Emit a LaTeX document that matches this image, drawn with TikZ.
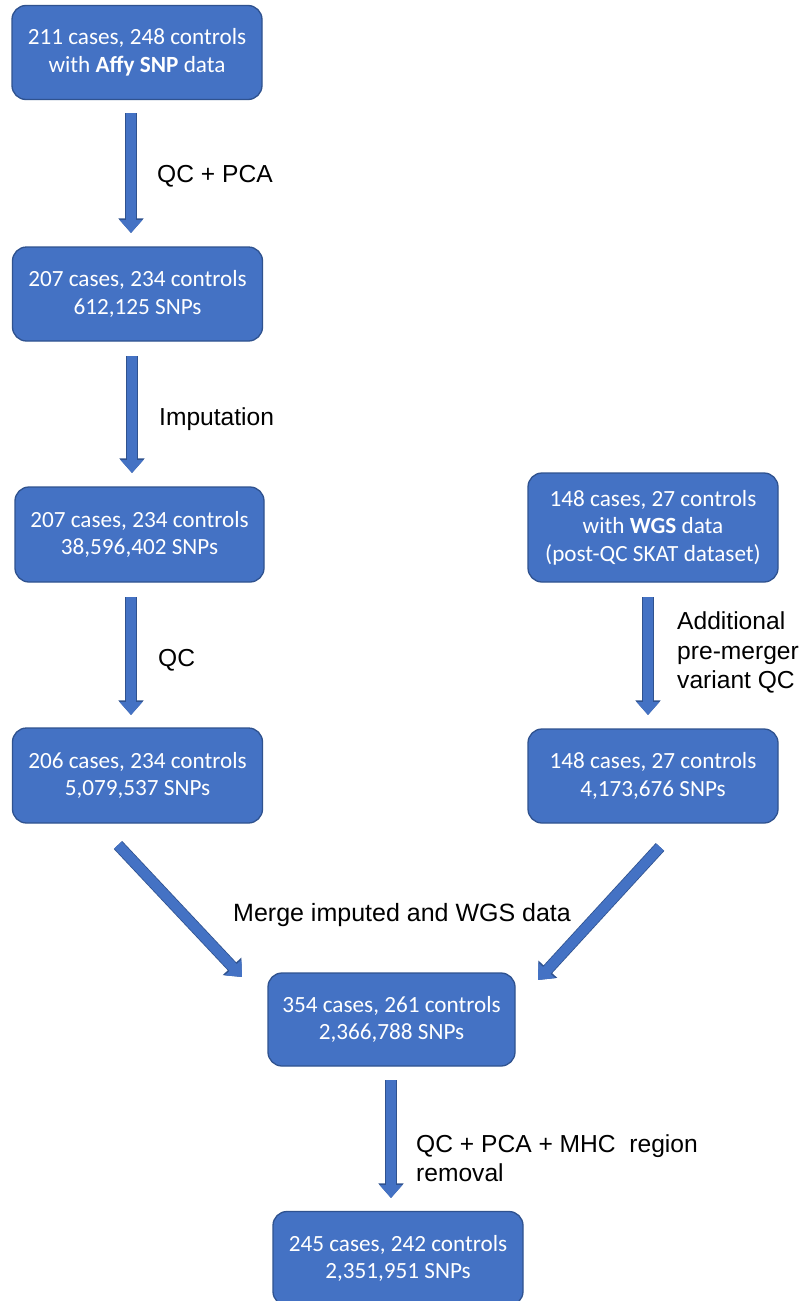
\documentclass[tikz,border=0pt]{standalone}
\usepackage{fontspec}
\setmainfont{Carlito}
\newfontfamily\labfont{Liberation Sans}
\usetikzlibrary{arrows.meta}
\definecolor{boxfill}{HTML}{4472C4}
\definecolor{boxline}{HTML}{2F528F}
\begin{document}
\begin{tikzpicture}[x=1pt,y=-1pt,
  databox/.style={draw=boxline, line width=1.3pt, fill=boxfill, rounded corners=14pt,
    text=white, minimum width=250pt, minimum height=94pt, align=center,
    font=\fontsize{23.2}{27.5}\selectfont, inner sep=0pt},
  steplabel/.style={anchor=west, align=left, font=\labfont\fontsize{24.6}{29.5}\selectfont,
    text=black, inner sep=0pt},
  blockarrow/.style={draw=boxfill, line width=10pt, -{Triangle[width=22pt,length=13pt]},
    preaction={draw=boxline, line width=11.6pt, -{Triangle[width=24.5pt,length=14.6pt]}}}
]
\clip (0,0) rectangle (802,1301);
\fill[white] (0,0) rectangle (802,1301);

% boxes
\node[databox] (b1) at (137,52.5) {211 cases, 248 controls\\with \textbf{Affy SNP} data};
\node[databox] (b2) at (137.5,294) {207 cases, 234 controls\\612,125 SNPs};
\node[databox, minimum width=249pt, minimum height=95pt] (b3) at (139.5,534.5) {207 cases, 234 controls\\38,596,402 SNPs};
\node[databox, minimum height=95pt] (b4) at (137.5,775.5) {206 cases, 234 controls\\5,079,537 SNPs};
\node[databox, minimum height=109pt] (rA) at (653,527.5) {148 cases, 27 controls\\with \textbf{WGS} data\\(post-QC SKAT dataset)};
\node[databox] (rB) at (653,776) {148 cases, 27 controls\\4,173,676 SNPs};
\node[databox, minimum width=247pt, minimum height=93pt] (m) at (391.5,1019.5) {354 cases, 261 controls\\2,366,788 SNPs};
\node[databox] (bot) at (398,1258.5) {245 cases, 242 controls\\2,351,951 SNPs};

% arrow end points
\coordinate (a1s) at (131,113);  \coordinate (a1e) at (131,233);
\coordinate (a2s) at (132,356);  \coordinate (a2e) at (132,473);
\coordinate (a3s) at (131,597);  \coordinate (a3e) at (131,715);
\coordinate (aRs) at (648,597);  \coordinate (aRe) at (648,715);
\coordinate (dLs) at (118,845);  \coordinate (dLe) at (242,977);
\coordinate (dRs) at (660,847);  \coordinate (dRe) at (538,980);
\coordinate (a4s) at (391,1080); \coordinate (a4e) at (391,1198);

\draw[blockarrow] (a1s) -- (a1e);
\draw[blockarrow] (a2s) -- (a2e);
\draw[blockarrow] (a3s) -- (a3e);
\draw[blockarrow] (aRs) -- (aRe);
\draw[blockarrow] (dLs) -- (dLe);
\draw[blockarrow] (dRs) -- (dRe);
\draw[blockarrow] (a4s) -- (a4e);

% labels
\node[steplabel] (l1) at (157,176) {QC + PCA};
\node[steplabel] (l2) at (159,419) {Imputation};
\node[steplabel] (l3) at (158,660) {QC};
\node[steplabel] (lR) at (677,652.5) {Additional\\pre-merger\\variant QC};
\node[steplabel, font=\labfont\fontsize{25}{30}\selectfont] (lM) at (233,915) {Merge imputed and WGS data};
\node[steplabel] (l4) at (416,1158) {QC + PCA + MHC\ \ region\\removal};
\end{tikzpicture}
\end{document}
